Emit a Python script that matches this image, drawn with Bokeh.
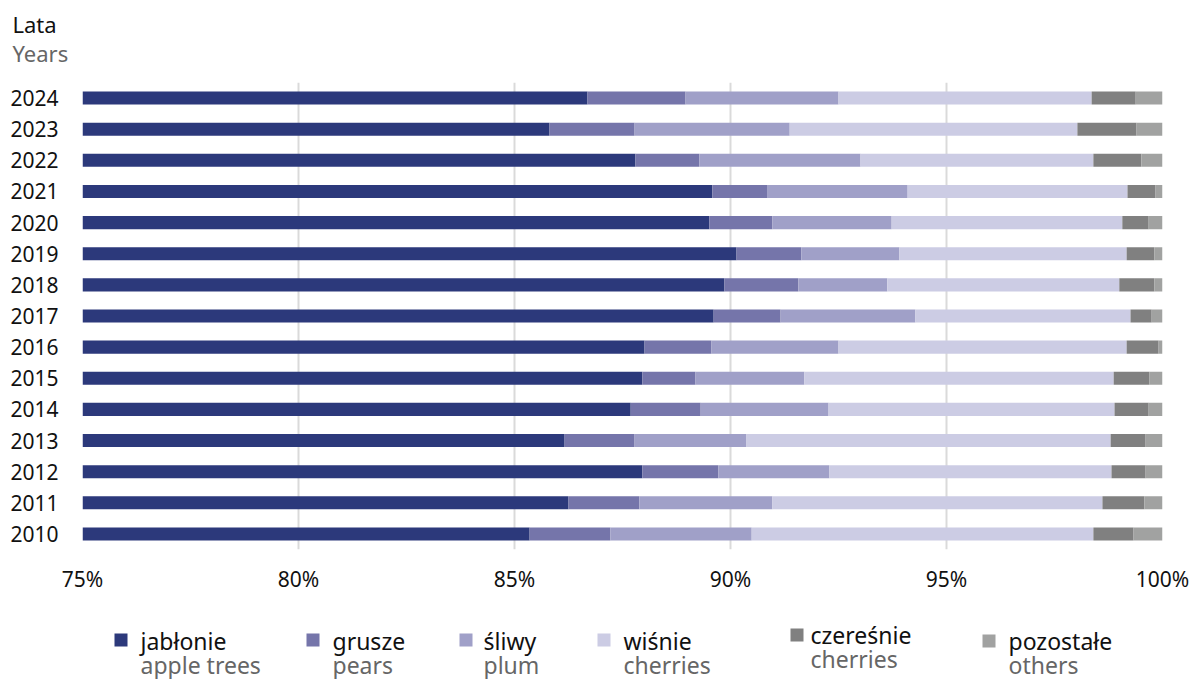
from bokeh.plotting import figure
from bokeh.layouts import column
from bokeh.models import (FactorRange, Range1d, FixedTicker, PrintfTickFormatter,
                          Title, ColumnDataSource)
from bokeh.core.properties import value
from bokeh.embed import file_html
from bokeh.resources import INLINE

# Share of orchard trees by species (% of total), per year
years = ["2024", "2023", "2022", "2021", "2020", "2019", "2018", "2017",
         "2016", "2015", "2014", "2013", "2012", "2011", "2010"]
apple_trees = [86.69, 85.81, 87.80, 89.58, 89.51, 90.14, 89.86, 89.61,
               88.01, 87.96, 87.69, 86.16, 87.96, 86.25, 85.35]
pears = [2.27, 1.97, 1.48, 1.28, 1.46, 1.50, 1.71, 1.55,
         1.55, 1.23, 1.62, 1.62, 1.76, 1.64, 1.87]
plums = [3.54, 3.59, 3.73, 3.24, 2.76, 2.27, 2.06, 3.12,
         2.94, 2.52, 2.96, 2.59, 2.57, 3.08, 3.27]
sour_cherries = [5.86, 6.66, 5.39, 5.09, 5.34, 5.26, 5.37, 4.98,
                 6.67, 7.16, 6.62, 8.43, 6.53, 7.64, 7.91]
sweet_cherries = [1.02, 1.37, 1.11, 0.65, 0.61, 0.64, 0.81, 0.49,
                  0.74, 0.83, 0.79, 0.81, 0.79, 0.97, 0.93]
others = [0.63, 0.60, 0.49, 0.16, 0.32, 0.19, 0.19, 0.25,
          0.09, 0.30, 0.32, 0.39, 0.39, 0.42, 0.67]

names_pl = ["jabłonie", "grusze", "śliwy", "wiśnie", "czereśnie", "pozostałe"]
names_en = ["apple trees", "pears", "plum", "cherries", "cherries", "others"]
x_ticks = [75, 80, 85, 90, 95, 100]

series = [apple_trees, pears, plums, sour_cherries, sweet_cherries, others]
colors = ["#2c397b", "#7575aa", "#a0a0c8", "#ccccE4", "#808080", "#a1a2a1"]

FONT = "Noto Sans"
BLACK, GREY = "#111111", "#666666"

W = 1193
CHART_H, LEGEND_H = 600, 79
FL, FR, FT, FB = 82, 1162, 82, 549   # plot frame edges in page pixels

p = figure(width=W, height=CHART_H, output_backend="svg", toolbar_location=None,
           x_range=Range1d(75, 100),
           y_range=FactorRange(factors=years[::-1], range_padding=0),
           min_border_left=FL, min_border_right=W - FR,
           min_border_top=FT, min_border_bottom=CHART_H - FB)
p.outline_line_color = None
p.title = None

# axis caption, two lines above the year labels
p.add_layout(Title(text="Years", text_font=FONT, text_font_size="22px",
                   text_font_style="normal", text_color=GREY, align="left",
                   offset=-70, standoff=29), "above")
p.add_layout(Title(text="Lata", text_font=FONT, text_font_size="22px",
                   text_font_style="normal", text_color=BLACK, align="left",
                   offset=-70, standoff=-35), "above")

# stacked bars
cum = [0.0] * len(years)
for vals, col in zip(series, colors):
    right = [c + v for c, v in zip(cum, vals)]
    src = ColumnDataSource(dict(y=years, left=list(cum), right=right))
    p.hbar(y="y", left="left", right="right", height=0.42, source=src,
           fill_color=col, line_color=None)
    cum = right

p.ygrid.grid_line_color = None
p.xgrid.grid_line_color = "#dadada"
p.xgrid.grid_line_width = 2
p.xaxis.ticker = FixedTicker(ticks=x_ticks)
p.xaxis.formatter = PrintfTickFormatter(format="%d%%")
for ax in (p.xaxis[0], p.yaxis[0]):
    ax.axis_line_color = None
    ax.major_tick_line_color = None
    ax.minor_tick_line_color = None
    ax.major_label_text_font = FONT
    ax.major_label_text_color = BLACK
p.xaxis.major_label_text_font_size = "21px"
p.xaxis.major_label_standoff = 9
p.yaxis.major_label_text_font_size = "21px"
p.yaxis.major_label_standoff = 18

# legend strip below the chart; its frame lines up with the chart frame,
# so its x range is given in page pixels (y grows downward)
leg = figure(width=W, height=LEGEND_H, output_backend="svg", toolbar_location=None,
             x_range=Range1d(FL, FR), y_range=Range1d(LEGEND_H, 0),
             x_axis_location=None, y_axis_location=None,
             min_border=0, min_border_left=FL, min_border_right=W - FR,
             min_border_top=0, min_border_bottom=0)
leg.outline_line_color = None
leg.grid.visible = False

# swatch left, swatch top, text x, first-line baseline (page pixels)
legend_pos = [(114, 633, 140, 648), (306, 633, 332, 648), (459, 633, 483, 648),
              (597, 633, 623, 648), (790, 628, 810, 642), (982, 634, 1008, 648)]
SW = 13
TEXT_SHIFT = 8
LINE_GAP = 24
sw = dict(left=[], right=[], top=[], bottom=[], color=[])
t1 = dict(x=[], y=[], text=[])
t2 = dict(x=[], y=[], text=[])
for (bx, by, tx, ty), col, pl, en in zip(legend_pos, colors, names_pl, names_en):
    sw["left"].append(bx)
    sw["right"].append(bx + SW)
    sw["top"].append(by - CHART_H)
    sw["bottom"].append(by - CHART_H + SW)
    sw["color"].append(col)
    t1["x"].append(tx)
    t1["y"].append(ty - CHART_H - TEXT_SHIFT)
    t1["text"].append(pl)
    t2["x"].append(tx)
    t2["y"].append(ty - CHART_H + LINE_GAP - TEXT_SHIFT)
    t2["text"].append(en)

leg.quad(left="left", right="right", top="top", bottom="bottom", fill_color="color",
         line_color=None, source=ColumnDataSource(sw))
leg.text(x="x", y="y", text="text", source=ColumnDataSource(t1), text_font=value(FONT),
         text_font_size="23px", text_color=BLACK, text_baseline="alphabetic")
leg.text(x="x", y="y", text="text", source=ColumnDataSource(t2), text_font=value(FONT),
         text_font_size="23px", text_color=GREY, text_baseline="alphabetic")

page = column(p, leg, spacing=0)
open("out.html", "w").write(file_html(page, INLINE))
